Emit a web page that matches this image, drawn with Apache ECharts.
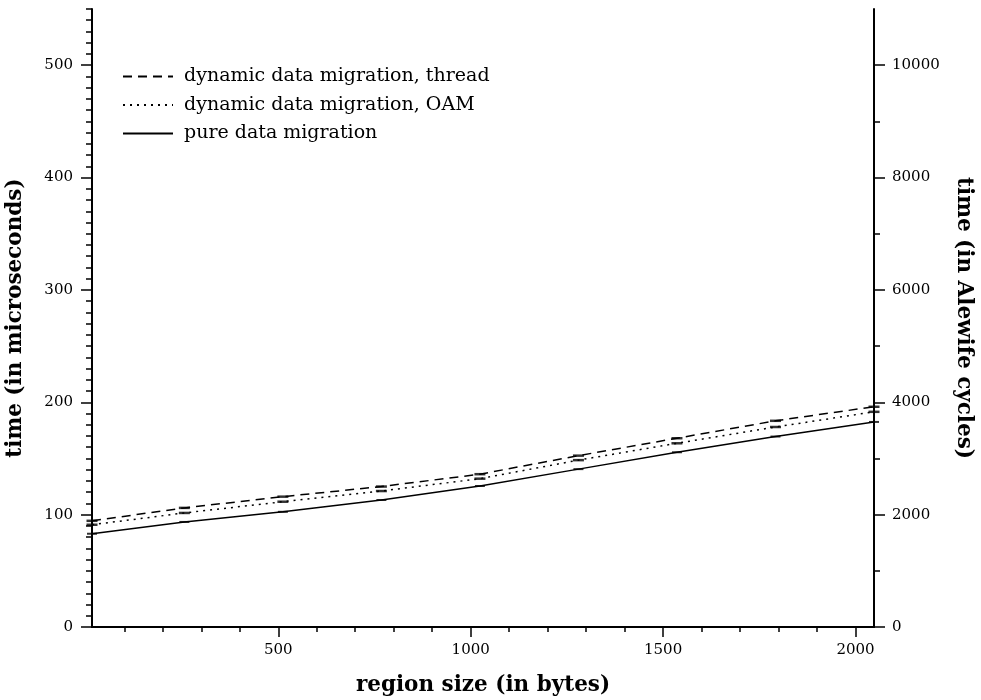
<!DOCTYPE html>
<html>
<head>
<meta charset="utf-8">
<script src="https://cdn.jsdelivr.net/npm/echarts@6/dist/echarts.min.js"></script>
<style>html,body{margin:0;padding:0;background:#fff}#c{width:981px;height:700px}</style>
</head>
<body>
<div id="c"></div>
<script>
const regionSize = [16, 256, 512, 768, 1024, 1280, 1536, 1792, 2048];
const threadTime = [94.5, 106, 116, 125, 136, 152.5, 168, 183.5, 196];
const oamTime = [91, 101.5, 111.5, 121, 132, 148.5, 163.5, 178, 191.5];
const pureTime = [83, 93.5, 102.5, 113, 125.5, 140.5, 155.5, 169.5, 182.5];
const seriesNames = ['dynamic data migration, thread', 'dynamic data migration, OAM', 'pure data migration'];
const xMajor = [500, 1000, 1500, 2000];
const xMinor = [100, 200, 300, 400, 600, 700, 800, 900, 1100, 1200, 1300, 1400, 1600, 1700, 1800, 1900];
const yMajor = [0, 100, 200, 300, 400, 500];
const yMinor = [];
for (let v = 10; v <= 550; v += 10) if (v % 100 !== 0) yMinor.push(v);
const cyclesMajor = [0, 2000, 4000, 6000, 8000, 10000];
const cyclesMinor = [1000, 3000, 5000, 7000, 9000];

const FONT = 'DejaVu Serif';
const black = '#000';
const pairs = ys => regionSize.map((x, i) => [x, ys[i]]);
const plain = v => String(v);

function axBase(extra) {
  return Object.assign({
    type: 'value',
    axisLine: { show: false },
    axisTick: { show: false },
    axisLabel: { show: false },
    splitLine: { show: false }
  }, extra);
}

const chart = echarts.init(document.getElementById('c'), null, { renderer: 'canvas' });
chart.setOption({
  animation: false,
  backgroundColor: '#fff',
  grid: { left: 92, right: 107, top: 9, bottom: 73, containLabel: false, outerBoundsMode: 'none' },
  legend: {
    orient: 'vertical',
    left: 117, top: 62,
    itemWidth: 50, itemHeight: 12, itemGap: 9.5,
    data: seriesNames.map(n => ({ name: n, itemStyle: { opacity: 0 } })),
    textStyle: { fontFamily: FONT, fontSize: 19, color: black, padding: [0, 0, 0, 6] },
    selectedMode: false
  },
  xAxis: [
    axBase({
      min: 16, max: 2048, position: 'bottom',
      axisLine: { show: true, lineStyle: { color: black, width: 2 } },
      axisTick: { show: true, inside: false, customValues: xMajor, length: 10, lineStyle: { color: black, width: 1.5 } },
      axisLabel: { show: true, customValues: xMajor, margin: 16, formatter: plain, fontFamily: FONT, fontSize: 15, color: black },
      name: 'region size (in bytes)', nameLocation: 'middle', nameGap: 47,
      nameTextStyle: { fontFamily: FONT, fontSize: 21.5, fontWeight: 'bold', color: black }
    }),
    axBase({
      min: 16, max: 2048, position: 'bottom',
      axisTick: { show: true, inside: false, customValues: xMinor, length: 5, lineStyle: { color: black, width: 1.5 } }
    }),
    axBase({
      min: 16, max: 2048, position: 'top',
      axisLine: { show: true, lineStyle: { color: black, width: 2 } }
    })
  ],
  yAxis: [
    axBase({
      min: 0, max: 550, position: 'left',
      axisLine: { show: true, lineStyle: { color: black, width: 2 } },
      axisTick: { show: true, inside: false, customValues: yMajor, length: 11, lineStyle: { color: black, width: 1.5 } },
      axisLabel: { show: true, customValues: yMajor, margin: 19, formatter: plain, fontFamily: FONT, fontSize: 15, color: black },
      name: 'time (in microseconds)', nameLocation: 'middle', nameGap: 66,
      nameTextStyle: { fontFamily: FONT, fontSize: 21.5, fontWeight: 'bold', color: black }
    }),
    axBase({
      min: 0, max: 550, position: 'left',
      axisTick: { show: true, inside: false, customValues: yMinor, length: 6, lineStyle: { color: black, width: 1.5 } }
    }),
    axBase({
      min: 0, max: 11000, position: 'right',
      axisLine: { show: true, lineStyle: { color: black, width: 2 } },
      axisTick: { show: true, inside: false, customValues: cyclesMajor, length: 11, lineStyle: { color: black, width: 1.5 } },
      axisLabel: { show: true, customValues: cyclesMajor, margin: 18, formatter: plain, fontFamily: FONT, fontSize: 15, color: black },
      name: 'time (in Alewife cycles)', nameLocation: 'middle', nameGap: 79, nameRotate: -90,
      nameTextStyle: { fontFamily: FONT, fontSize: 21.5, fontWeight: 'bold', color: black }
    }),
    axBase({
      min: 0, max: 11000, position: 'right',
      axisTick: { show: true, inside: false, customValues: cyclesMinor, length: 6, lineStyle: { color: black, width: 1.5 } }
    })
  ],
  series: [
    { name: seriesNames[0], type: 'line', data: pairs(threadTime), showSymbol: false, symbol: 'none',
      lineStyle: { color: black, width: 1.5, type: [9, 6] }, itemStyle: { color: black } },
    { name: seriesNames[1], type: 'line', data: pairs(oamTime), showSymbol: false, symbol: 'none',
      lineStyle: { color: black, width: 1.5, type: [2, 5] }, itemStyle: { color: black } },
    { name: seriesNames[2], type: 'line', data: pairs(pureTime), showSymbol: false, symbol: 'none',
      lineStyle: { color: black, width: 1.5, type: 'solid' }, itemStyle: { color: black } },
    { name: 'm1', type: 'scatter', data: pairs(threadTime), symbol: 'rect', symbolSize: [11, 2.5], itemStyle: { color: black } },
    { name: 'm2', type: 'scatter', data: pairs(oamTime), symbol: 'rect', symbolSize: [11, 2.5], itemStyle: { color: black } },
    { name: 'm3', type: 'scatter', data: pairs(pureTime), symbol: 'rect', symbolSize: [10, 2], itemStyle: { color: black } }
  ]
});
</script>
</body>
</html>
